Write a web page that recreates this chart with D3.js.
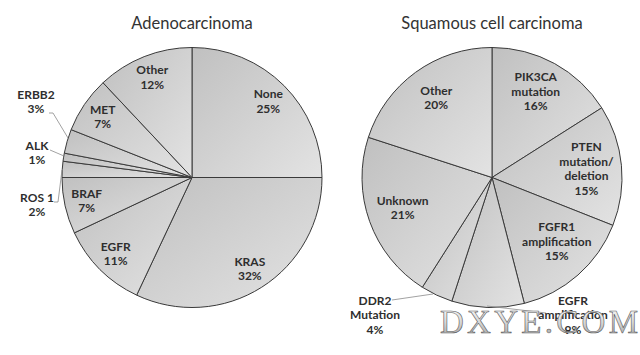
<!DOCTYPE html>
<html><head><meta charset="utf-8">
<script src="https://cdn.jsdelivr.net/npm/d3@7"></script>
<style>html,body{margin:0;padding:0;background:#fff;}svg{display:block;}</style>
</head><body>
<svg id="chart" width="640" height="355"></svg>
<script>
// ---- Data ----
const adenoCategories = ["None", "KRAS", "EGFR", "BRAF", "ROS 1", "ALK", "ERBB2", "MET", "Other"];
const adenoValues     = [25, 32, 11, 7, 2, 1, 3, 7, 12];
const squamCategories = ["PIK3CA\nmutation", "PTEN\nmutation/\ndeletion", "FGFR1\namplification", "EGFR\namplification", "DDR2\nMutation", "Unknown", "Other"];
const squamValues     = [16, 15, 15, 9, 4, 21, 20];
const chartTitles     = ["Adenocarcinoma", "Squamous cell carcinoma"];
const watermarkText   = "DXYE.COM";

// ---- Layout (kept separate from data) ----
const R = 130;
const pies = [
  { title: chartTitles[0], cats: adenoCategories, vals: adenoValues, cx: 192, cy: 177.5,
    labelR: 0.83,
    outside: { "ERBB2": { pos: [36, 102], line: [[49,113],[53,113],[68,138]] },
               "ALK":   { pos: [37, 153], line: [[50,150],[64,156]] },
               "ROS 1": { pos: [37, 205], line: [[54,202],[58,202],[62,170]] } },
    nudge: {} },
  { title: chartTitles[1], cats: squamCategories, vals: squamValues, cx: 492, cy: 177.5,
    labelR: 0.73,
    outside: { "DDR2\nMutation": { pos: [375, 315], line: [[392,300],[433,294]] },
               "EGFR\namplification": { pos: [573, 315], line: [[546,313],[487,306]] } },
    nudge: { "FGFR1\namplification": [2, -7], "Unknown": [0, -2], "Other": [0, -3], "PIK3CA\nmutation": [-2, -3] } }
];

const svg = d3.select("#chart");
const defs = svg.append("defs");
const lineH = 14.5;

pies.forEach((p, pi) => {
  const g = svg.append("g").attr("transform", `translate(${p.cx},${p.cy})`);
  svg.append("text")
    .attr("x", p.cx).attr("y", 29)
    .attr("text-anchor", "middle")
    .attr("font-family", "Lato, 'Open Sans', sans-serif")
    .attr("font-size", 16.5)
    .attr("fill", "#333")
    .text(p.title);

  const pie = d3.pie().sort(null).value(d => d.v);
  const data = pie(p.cats.map((c, i) => ({ c, v: p.vals[i] })));
  const arc = d3.arc().innerRadius(0).outerRadius(R);

  data.forEach((d, i) => {
    const gr = defs.append("linearGradient")
      .attr("id", `g${pi}_${i}`)
      .attr("x1", 0).attr("y1", 0).attr("x2", 1).attr("y2", 1);
    gr.append("stop").attr("offset", 0).attr("stop-color", "#c0c0c0");
    gr.append("stop").attr("offset", 1).attr("stop-color", "#e3e3e3");
  });

  g.selectAll("path.slice").data(data).join("path")
    .attr("class", "slice")
    .attr("d", arc)
    .attr("fill", (d, i) => `url(#g${pi}_${i})`)
    .attr("stroke", "#3a3a3a")
    .attr("stroke-width", 1)
    .attr("stroke-linejoin", "round");

  const labelArc = d3.arc().innerRadius(R * p.labelR).outerRadius(R * p.labelR);
  data.forEach(d => {
    const name = d.data.c;
    const lines = name.split("\n").concat([d.data.v + "%"]);
    let x, y;
    const out = p.outside[name];
    if (out) {
      x = out.pos[0]; y = out.pos[1];
      svg.append("path")
        .attr("d", d3.line()(out.line))
        .attr("fill", "none").attr("stroke", "#8a8a8a").attr("stroke-width", 0.8);
    } else {
      const c = labelArc.centroid(d);
      const n = p.nudge[name] || [0, 0];
      x = p.cx + c[0] + n[0]; y = p.cy + c[1] + n[1];
    }
    const t = svg.append("text")
      .attr("text-anchor", "middle")
      .attr("font-family", "Lato, 'Open Sans', sans-serif")
      .attr("font-weight", "bold")
      .attr("font-size", 12)
      .attr("fill", "#2e2e2e");
    const top = y - (lines.length - 1) * lineH / 2;
    lines.forEach((ln, k) => {
      t.append("tspan").attr("x", x).attr("y", top + k * lineH).attr("dy", "0.35em").text(ln);
    });
  });
});

// Watermark
const wg = defs.append("linearGradient").attr("id", "wm").attr("x1", 0).attr("y1", 0).attr("x2", 0).attr("y2", 1);
wg.append("stop").attr("offset", 0).attr("stop-color", "#ffffff");
wg.append("stop").attr("offset", 0.5).attr("stop-color", "#d8d8d8");
wg.append("stop").attr("offset", 1).attr("stop-color", "#9a9a9a");
svg.append("text")
  .attr("x", 440).attr("y", 333)
  .attr("font-family", "'Liberation Serif', 'DejaVu Serif', serif")
  .attr("font-size", 33)
  .attr("textLength", 198)
  .attr("lengthAdjust", "spacing")
  .attr("fill", "url(#wm)")
  .attr("stroke", "#5a5a5a")
  .attr("stroke-width", 0.6)
  .text(watermarkText);
</script>
</body></html>
